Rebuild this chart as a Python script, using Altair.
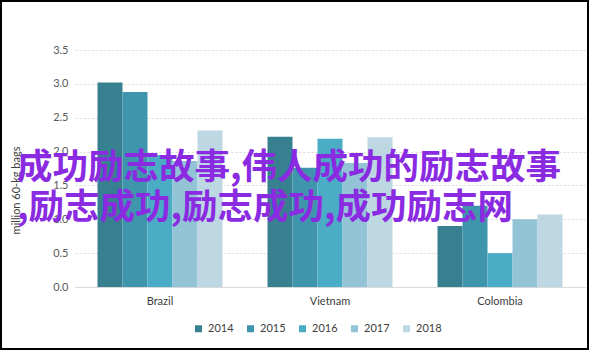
import altair as alt
import pandas as pd

countries = ["Brazil", "Vietnam", "Colombia"]
years = ["2014", "2015", "2016", "2017", "2018"]
values = {
    "Brazil":   [3.02, 2.88, 1.95, 1.86, 2.31],
    "Vietnam":  [2.22, 1.76, 2.19, 1.83, 2.21],
    "Colombia": [0.90, 1.20, 0.50, 1.00, 1.07],
}
colors = ["#37808f", "#3f95ab", "#4bacc6", "#93c4d6", "#bdd8e3"]
y_ticks = [0, 0.5, 1.0, 1.5, 2.0, 2.5, 3.0, 3.5]
overlay_lines = ["成功励志故事,伟人成功的励志故事", ",励志成功,励志成功,成功励志网"]

rows = []
for c in countries:
    for y, v in zip(years, values[c]):
        rows.append({"country": c, "year": y, "value": v})
df = pd.DataFrame(rows)

bars = alt.Chart(df).mark_bar().encode(
    x=alt.X("country:N", sort=countries,
            scale=alt.Scale(paddingInner=0, paddingOuter=0),
            axis=alt.Axis(title=None, labelAngle=0, ticks=False, domain=True,
                          domainColor="#d9d9d9", labelColor="#404040",
                          labelFontSize=11, labelFont="Lato", labelPadding=8)),
    xOffset=alt.XOffset("year:N", sort=years,
                        scale=alt.Scale(paddingInner=0, paddingOuter=0.9)),
    y=alt.Y("value:Q", scale=alt.Scale(domain=[0, 3.5], nice=False),
            axis=alt.Axis(title="million 60-kg bags", values=y_ticks, format=".1f",
                          ticks=False, domain=False, grid=True,
                          gridColor="#d9d9d9", gridDash=[2, 2], gridWidth=1,
                          labelColor="#595959", labelFontSize=11, labelFont="Lato",
                          labelPadding=7, titleFont="Lato", titleFontSize=11,
                          titleFontWeight="normal", titleColor="#404040",
                          titleAngle=-90, titleX=-59, titleY=140,
                          titleAlign="center", titleBaseline="middle")),
    color=alt.Color("year:N", sort=years,
                    scale=alt.Scale(domain=years, range=colors),
                    legend=alt.Legend(title=None, orient="none", direction="horizontal",
                                      legendX=118, legendY=273, symbolType="square",
                                      symbolSize=49, symbolStrokeWidth=0,
                                      labelFontSize=11, labelFont="Lato",
                                      labelColor="#404040", labelOffset=4,
                                      columnPadding=11)),
)

overlay_df = pd.DataFrame({"txt": ["\n".join(overlay_lines)]})
overlay = alt.Chart(overlay_df).mark_text(
    align="left", baseline="middle", font="Noto Sans CJK SC", fontSize=35.5,
    fontWeight="bold", color="#8a2be2", lineBreak="\n", lineHeight=40
).encode(
    text="txt:N",
    x=alt.value(-58),
    y=alt.value(118),
)

frame = alt.Chart(pd.DataFrame({"f": [0]})).mark_rect(
    fill=None, stroke="black", strokeWidth=2
).encode(
    x=alt.value(-74), x2=alt.value(513), y=alt.value(-49), y2=alt.value(299)
)

chart = alt.layer(bars, overlay, frame).properties(
    width=510, height=237,
    autosize=alt.AutoSizeParams(type="none"),
    padding={"left": 75, "top": 50, "right": 5, "bottom": 64},
    background="white",
    title=alt.TitleParams("Figure 7: July exports", anchor="start", frame="group",
                          dx=-67, offset=20, font="Lato", fontSize=16,
                          fontWeight="normal", color="#404040"),
).configure_view(stroke=None)

chart.save("out.html", embed_options={"renderer": "svg", "actions": False})
